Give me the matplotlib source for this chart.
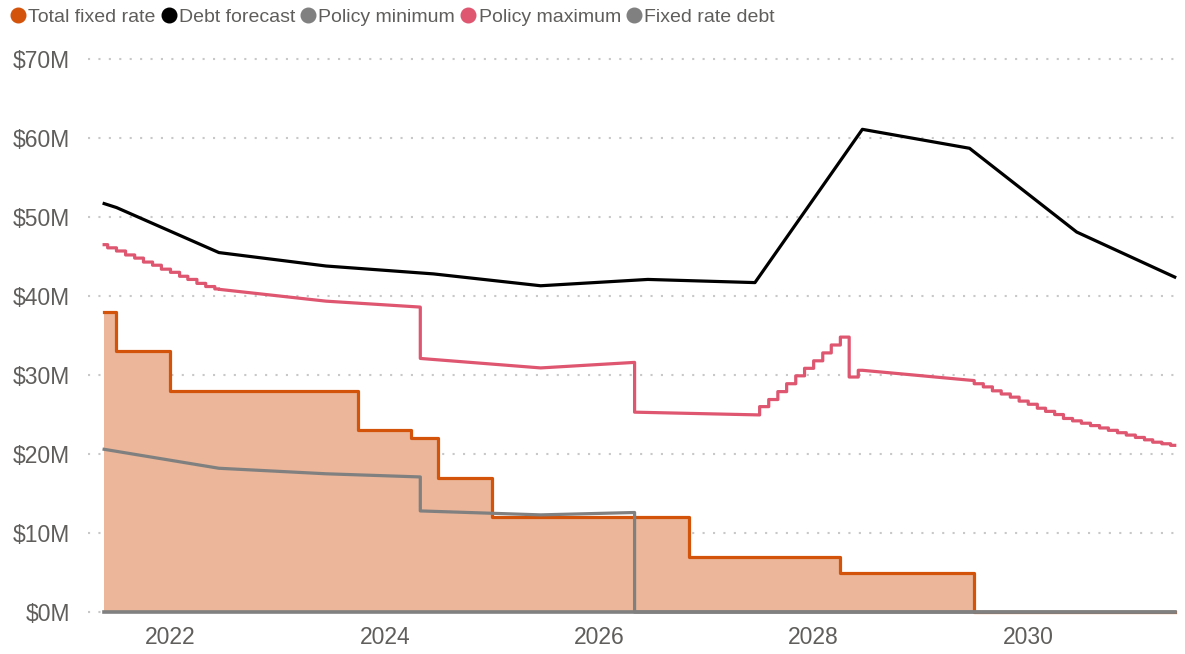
import numpy as np
import pandas as pd
import matplotlib
matplotlib.use("Agg")
import matplotlib.pyplot as plt
import matplotlib.dates as mdates
from matplotlib.lines import Line2D
from matplotlib.ticker import FuncFormatter

# ==========================
# DATA ($M)
# ==========================

start = "2021-05-20"
end = "2031-05-15"

# total fixed rate (step at each date)
fixed_dates = [start, "2021-07-01", "2022-01-01", "2023-10-01", "2024-04-01",
               "2024-07-01", "2025-01-01", "2026-11-01", "2028-04-01",
               "2029-07-01", end]
fixed_vals = [38, 33, 28, 23, 22, 17, 12, 7, 5, 0, 0]

# debt forecast
debt_dates = [start, "2021-07-01", "2022-06-15", "2023-06-15", "2024-06-15",
              "2025-06-15", "2026-06-15", "2027-06-15", "2028-06-15",
              "2029-06-15", "2030-06-15", end]
debt_vals = [51.7, 51.2, 45.5, 43.8, 42.8, 41.3, 42.1, 41.7, 61.1, 58.7, 48.1, 42.4]

# policy minimum
min_dates = [start, "2022-06-15", "2023-06-15", "2024-05-01", "2024-05-01",
             "2025-06-15", "2026-05-01", "2026-05-01", end]
min_vals = [20.6, 18.2, 17.5, 17.1, 12.8, 12.3, 12.6, 0, 0]

# policy maximum, monthly steps where they show, straight runs elsewhere
max_a_dates = [start] + list(pd.date_range("2021-06-01", "2022-06-01", freq="MS")) + ["2022-06-15"]
max_a_vals = [46.5, 46.1, 45.7, 45.2, 44.8, 44.3, 43.9, 43.4, 43.0, 42.5,
              42.1, 41.6, 41.2, 40.9, 40.85]

max_b_dates = ["2022-06-15", "2023-06-15", "2024-05-01", "2024-05-01",
               "2025-06-15", "2026-05-01", "2026-05-01", "2027-07-01"]
max_b_vals = [40.85, 39.35, 38.6, 32.1, 30.9, 31.6, 25.3, 24.95]

max_c_dates = list(pd.date_range("2027-07-01", "2028-06-01", freq="MS")) + ["2028-06-15"]
max_c_vals = [26.0, 26.9, 27.9, 28.9, 29.9, 30.85, 31.8, 32.8, 33.8, 34.8,
              29.75, 30.6, 30.6]

max_d_dates = ["2028-06-15", "2029-06-15", "2029-07-01"]
max_d_vals = [30.6, 29.35, 29.3]

max_e_dates = list(pd.date_range("2029-07-01", "2031-05-01", freq="MS")) + [end]
max_e_vals = [28.9, 28.5, 28.0, 27.6, 27.2, 26.7, 26.3, 25.8, 25.4, 25.0,
              24.5, 24.2, 23.9, 23.6, 23.3, 23.0, 22.7, 22.4, 22.1, 21.8,
              21.5, 21.3, 21.1, 21.1]

# fixed rate debt
frd_dates = [start, end]
frd_vals = [0, 0]

# ==========================
# HELPERS
# ==========================

def step_xy(dates, vals):
    # corner points of a steps-post line, so it can be joined to straight runs
    d = pd.to_datetime(pd.Series(dates)).to_numpy()
    v = np.asarray(vals, dtype=float)
    return np.repeat(d, 2)[1:], np.repeat(v, 2)[:-1]

def line_xy(dates, vals):
    return pd.to_datetime(pd.Series(dates)).to_numpy(), np.asarray(vals, dtype=float)

parts = [step_xy(max_a_dates, max_a_vals), line_xy(max_b_dates, max_b_vals),
         step_xy(max_c_dates, max_c_vals), line_xy(max_d_dates, max_d_vals),
         step_xy(max_e_dates, max_e_vals)]
max_x = np.concatenate([p[0] for p in parts])
max_y = np.concatenate([p[1] for p in parts])

# ==========================
# COLOURS
# ==========================

c_fixed = "#D4530B"
c_fill = "#EBB699"
c_debt = "#000000"
c_min = "#808080"
c_max = "#DE5670"
c_frd = "#808080"
c_text = "#605E5C"

plt.rcParams["font.family"] = ["Liberation Sans", "DejaVu Sans"]

# ==========================
# PLOT
# ==========================

fig = plt.figure(figsize=(11.85, 6.54), dpi=100)
ax = fig.add_axes([88 / 1185, 38 / 654, 1092 / 1185, 566 / 654])

fx = pd.to_datetime(pd.Series(fixed_dates)).to_numpy()
ax.fill_between(fx, fixed_vals, 0, step="post", color=c_fill, lw=0, zorder=2)
ax.plot(fx, fixed_vals, drawstyle="steps-post", color=c_fixed, lw=2.3, zorder=3)

mx, my = line_xy(min_dates, min_vals)
ax.plot(mx, my, color=c_min, lw=2.3, zorder=4)

ax.plot(max_x, max_y, color=c_max, lw=2.3, zorder=4)

dx, dy = line_xy(debt_dates, debt_vals)
ax.plot(dx, dy, color=c_debt, lw=2.3, zorder=5)

zx, zy = line_xy(frd_dates, frd_vals)
ax.plot(zx, zy, color=c_frd, lw=2.6, zorder=6)

# axes
ax.set_xlim(pd.Timestamp("2021-03-26"), pd.Timestamp("2031-06-02"))
ax.set_ylim(-0.5, 71.14)
ax.set_yticks(range(0, 71, 10))
ax.yaxis.set_major_formatter(FuncFormatter(lambda v, p: f"${v:.0f}M"))
ax.xaxis.set_major_locator(mdates.YearLocator(2))
ax.xaxis.set_major_formatter(mdates.DateFormatter("%Y"))

ax.grid(axis="y", color="#C8C8C8", linestyle=(0, (1, 4)), lw=1.5, zorder=1)
ax.grid(axis="x", visible=False)
for s in ax.spines.values():
    s.set_visible(False)
ax.tick_params(axis="both", length=0, labelsize=16.5, labelcolor=c_text)
ax.tick_params(axis="y", pad=13)
ax.tick_params(axis="x", pad=7)

# legend
names = ["Total fixed rate", "Debt forecast", "Policy minimum", "Policy maximum", "Fixed rate debt"]
cols = [c_fixed, c_debt, c_min, c_max, c_frd]
handles = [Line2D([], [], ls="", marker="o", markersize=10.5, color=c, label=n)
           for n, c in zip(names, cols)]
fig.legend(handles=handles, loc="upper left", bbox_to_anchor=(0.004, 0.996),
           ncol=5, frameon=False, fontsize=14, labelcolor=c_text,
           handlelength=0.75, handletextpad=0.15, columnspacing=0.3,
           borderaxespad=0, borderpad=0.3)

fig.savefig("out.png", dpi=100)
